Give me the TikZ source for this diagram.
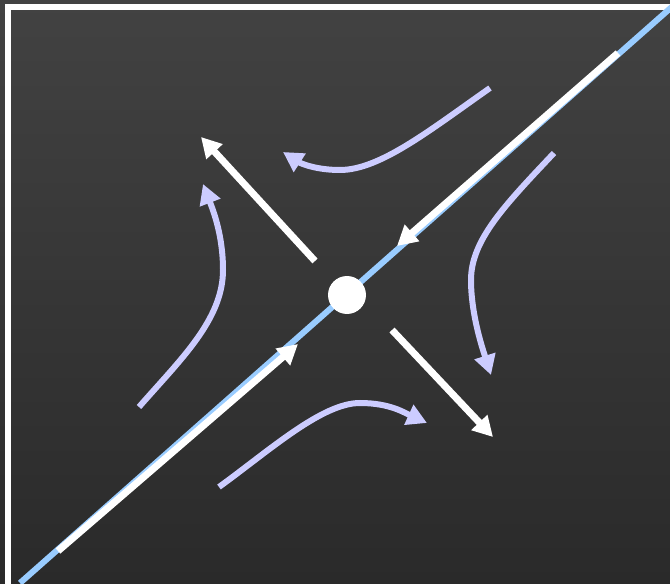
\documentclass[tikz,border=0pt]{standalone}
\usetikzlibrary{arrows.meta}
\definecolor{figFondoSup}{RGB}{66,66,66}
\definecolor{figFondoInf}{RGB}{42,42,42}
\definecolor{figCeleste}{RGB}{153,204,255}
\definecolor{figLavanda}{RGB}{204,204,255}
\tikzset{
  marco/.style={draw=white, line width=0.12cm},
  recta/.style={draw=figCeleste, line width=0.12cm},
  flechab/.style={-{Triangle[length=0.4cm,width=0.42cm]}, draw=white, line width=0.14cm},
  flechal/.style={-{Triangle[length=0.4cm,width=0.42cm]}, draw=figLavanda, line width=0.12cm},
  punto/.style={circle, fill=white, minimum size=0.76cm, inner sep=0pt}
}

\begin{document}
\begin{tikzpicture}[x=0.02cm, y=-0.02cm]
  \useasboundingbox (0,0) rectangle (670,584);
  \shade[top color=figFondoSup, bottom color=figFondoInf] (0,0) rectangle (670,584);
  \clip (0,0) rectangle (670,584);

  % marco
  \draw[marco] (8,600) -- (8,7) -- (700,7);

  % variedad estable
  \coordinate (diagA) at (20,583);
  \coordinate (diagB) at (674,5);
  \draw[recta] (diagA) -- (diagB);

  \coordinate (estSupIni) at (618,53);
  \coordinate (estSupFin) at (397,246);
  \coordinate (estInfIni) at (58,551);
  \coordinate (estInfFin) at (298,344);
  \draw[flechab] (estSupIni) -- (estSupFin);
  \draw[flechab] (estInfIni) -- (estInfFin);

  % punto de silla
  \node[punto] (silla) at (347,295) {};

  % variedad inestable
  \coordinate (inesIzqIni) at (315,261);
  \coordinate (inesIzqFin) at (201,137);
  \coordinate (inesDerIni) at (392,330);
  \coordinate (inesDerFin) at (493,437);
  \draw[flechab] (inesIzqIni) -- (inesIzqFin);
  \draw[flechab] (inesDerIni) -- (inesDerFin);

  % trayectorias
  \coordinate (trSupIni) at (490,88);
  \coordinate (trSupFin) at (283,152);
  \draw[flechal] (trSupIni) .. controls (430,130) and (380,170) .. (340,170)
                            .. controls (315,170) and (300,163) .. (trSupFin);
  \coordinate (trDerIni) at (554,153);
  \coordinate (trDerFin) at (491,375);
  \draw[flechal] (trDerIni) .. controls (505,205) and (471,240) .. (471,280)
                            .. controls (471,315) and (483,350) .. (trDerFin);
  \coordinate (trIzqIni) at (139,407);
  \coordinate (trIzqFin) at (203,184);
  \draw[flechal] (trIzqIni) .. controls (180,360) and (223,320) .. (223,270)
                            .. controls (223,235) and (213,210) .. (trIzqFin);
  \coordinate (trInfIni) at (219,487);
  \coordinate (trInfFin) at (427,423);
  \draw[flechal] (trInfIni) .. controls (270,450) and (322,403) .. (360,403)
                            .. controls (390,403) and (405,413) .. (trInfFin);
\end{tikzpicture}
\end{document}
